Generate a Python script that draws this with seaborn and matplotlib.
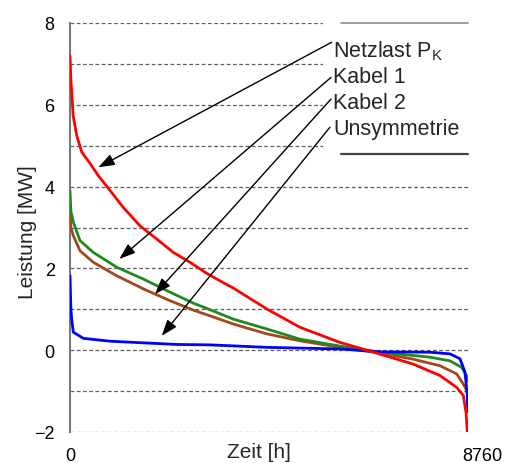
import matplotlib
matplotlib.use("Agg")
import matplotlib.pyplot as plt
import matplotlib.transforms as mtransforms
from matplotlib.patches import Rectangle
import seaborn as sns

h_netz = [0, 20, 70, 150, 260, 440, 620, 815, 1173, 1541, 1908, 2274, 2641, 3009, 3374,
          3594, 4329, 5062, 5943, 6537, 7556, 8144, 8511, 8657, 8716, 8745]
p_netz = [7.2, 6.6, 5.73, 5.24, 4.84, 4.57, 4.27, 4.0, 3.49, 3.04, 2.72, 2.39, 2.15, 1.88, 1.65,
          1.52, 1.01, 0.56, 0.19, 0.0, -0.34, -0.62, -0.91, -1.11, -1.52, -2.0]

h_kabel1 = [0, 20, 73, 220, 513, 1028, 1613, 2201, 2714, 3081, 3594, 4329, 5062, 5943,
            6823, 7924, 8364, 8621, 8745, 8760]
p_kabel1 = [3.9, 3.4, 3.13, 2.68, 2.39, 2.03, 1.74, 1.42, 1.15, 0.99, 0.76, 0.52, 0.27, 0.10,
            -0.05, -0.17, -0.26, -0.42, -0.66, -0.75]

h_kabel2 = [0, 20, 73, 220, 513, 1028, 1613, 2201, 2714, 3081, 3594, 4329, 5062, 5943,
            6823, 7556, 8144, 8511, 8657, 8716, 8745]
p_kabel2 = [3.33, 3.0, 2.80, 2.43, 2.15, 1.82, 1.50, 1.21, 0.98, 0.84, 0.64, 0.40, 0.23, 0.07,
            -0.07, -0.22, -0.38, -0.58, -0.83, -0.95, -1.0]

h_unsym = [0, 20, 37, 73, 293, 880, 1613, 2348, 3081, 4329, 5943, 6823, 7924, 8364, 8584,
           8694, 8745, 8752, 8760]
p_unsym = [1.82, 1.0, 0.76, 0.44, 0.29, 0.22, 0.18, 0.14, 0.13, 0.07, 0.03, -0.04, -0.05, -0.09,
           -0.21, -0.54, -1.11, -1.44, -1.5]

labels = ["Netzlast P$_\\mathregular{K}$", "Kabel 1", "Kabel 2", "Unsymmetrie"]
label_y = [7.19, 6.56, 5.92, 5.29]
arrow_from = [(5759, 7.53), (5745, 6.67), (5745, 6.14), (5720, 5.45)]
arrow_to = [(623, 4.47), (1086, 2.23), (1871, 1.37), (2018, 0.35)]

sns.set_style("white")
plt.rcParams["font.family"] = ["Liberation Sans", "DejaVu Sans"]

fig = plt.figure(figsize=(5.06, 4.64), dpi=100)
ax = fig.add_axes([70 / 506, 31 / 464, 398 / 506, 409 / 464])

sns.lineplot(x=h_kabel2, y=p_kabel2, color="#a5471c", lw=2, ax=ax, zorder=3)
sns.lineplot(x=h_kabel1, y=p_kabel1, color="#1f8a1f", lw=2, ax=ax, zorder=3)
sns.lineplot(x=h_unsym, y=p_unsym, color="#0000ff", lw=2, ax=ax, zorder=3)
sns.lineplot(x=h_netz, y=p_netz, color="#ff0000", lw=2, ax=ax, zorder=4)

ax.set_xlim(0, 8760)
ax.set_ylim(-2, 8)
ax.set_yticks([-2, 0, 2, 4, 6, 8])
ax.set_yticks([-1, 1, 3, 5, 7], minor=True)
ax.set_xticks([0, 8760])
ax.set_xticklabels(["0", "8760"])
ax.tick_params(axis="both", which="both", length=0, labelsize=13, colors="black")
ax.tick_params(axis="y", pad=11)
ax.tick_params(axis="x", pad=11)
ax.set_axisbelow(True)
ax.grid(axis="y", which="both", color="#5e5e5e", lw=0.9, linestyle=(0, (3, 2)))
ax.grid(axis="x", visible=False)

# 8760 sits a little right of the axis end
lab = ax.get_xticklabels()[1]
lab.set_transform(lab.get_transform() + mtransforms.ScaledTranslation(14 / 100, 0, fig.dpi_scale_trans))

for side in ["top", "right", "bottom"]:
    ax.spines[side].set_visible(False)
ax.spines["left"].set_color("#7a7a7a")
ax.spines["left"].set_linewidth(1.5)

ax.set_xlabel("Zeit [h]", fontsize=15)
ax.xaxis.set_label_coords(0.474, -0.061)
ax.xaxis.label.set_va("baseline")
ax.set_ylabel("Leistung [MW]", fontsize=15)
ax.yaxis.set_label_coords(-0.093, 0.491)
ax.yaxis.label.set_va("baseline")

# text box over the grid
ax.add_patch(Rectangle((5569, 4.80), 3300, 3.3, facecolor="white", edgecolor="none",
                       zorder=1.5, clip_on=False))
ax.plot([5965, 8760], [7.99, 7.99], color="#8a8a8a", lw=1.2, zorder=2, clip_on=False)
ax.plot([5965, 8760], [4.80, 4.80], color="#444444", lw=1.6, zorder=2, clip_on=False)

for txt, ty in zip(labels, label_y):
    ax.text(5790, ty, txt, fontsize=15.5, va="baseline", ha="left", zorder=5)

for start, end in zip(arrow_from, arrow_to):
    ax.annotate("", xy=end, xytext=start, zorder=5,
                arrowprops=dict(arrowstyle="-|>,head_length=0.7,head_width=0.25",
                                color="black", lw=1, mutation_scale=14,
                                shrinkA=0, shrinkB=0))

fig.savefig("out.png", dpi=100)
